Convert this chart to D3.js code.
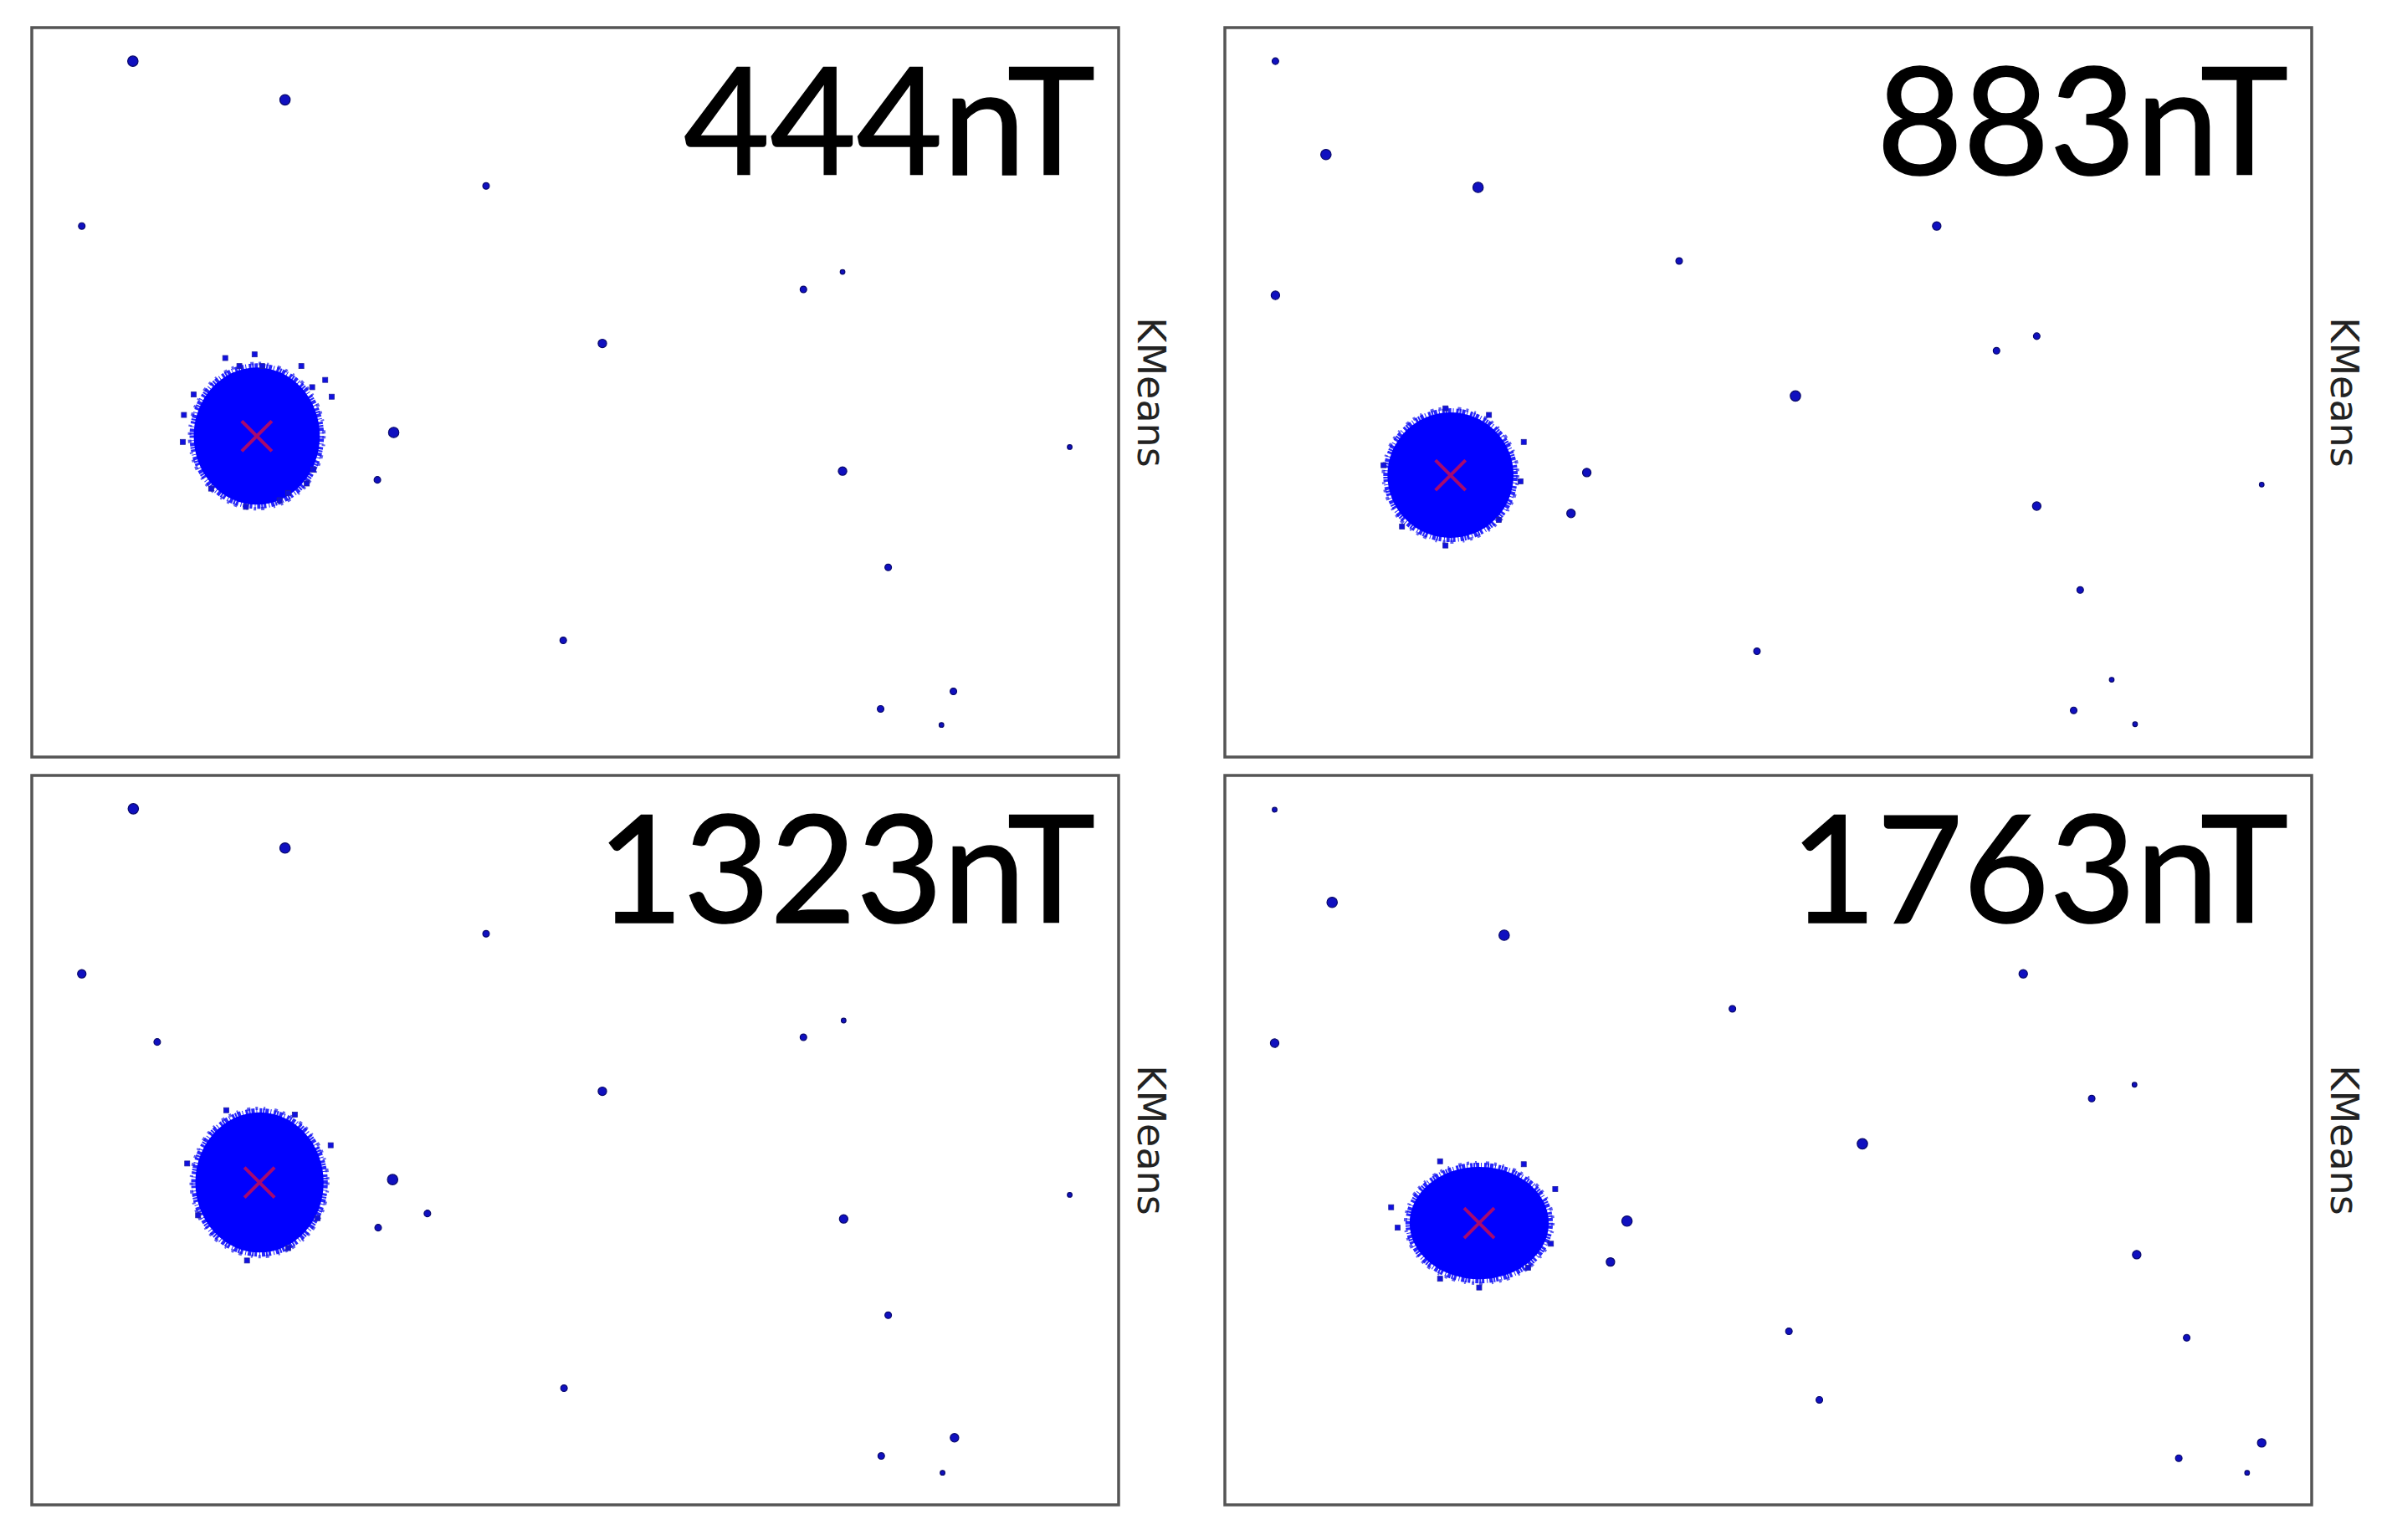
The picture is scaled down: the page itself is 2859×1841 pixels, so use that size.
<!DOCTYPE html>
<html>
<head>
<meta charset="utf-8">
<script src="https://cdn.jsdelivr.net/npm/d3@7"></script>
<style>
  html, body { margin: 0; padding: 0; background: #fff; }
  svg { display: block; }
</style>
</head>
<body>
<svg id="chart" width="2859" height="1841"></svg>
<script>
// ---------------- DATA ----------------
const titles = ["444nT", "883nT", "1323nT", "1763nT"];
const sideLabel = "KMeans";

// cluster centroids (red X) and spread of the dense core, per panel
const centroidX = [20.7, 20.76, 20.95, 23.4];
const centroidY = [44.0, 38.64, 44.2, 38.64];
const spreadX   = [5.8, 5.8, 5.9, 6.4];
const spreadY   = [9.4, 8.6, 9.6, 7.7];

// isolated points: [x, y, weight]
const outliers444 = [
  [9.3, 95.4, 4], [23.3, 90.1, 4], [41.8, 78.3, 2], [4.6, 72.8, 2],
  [74.6, 66.5, 1], [71.0, 64.1, 2], [52.5, 56.7, 3], [33.3, 44.5, 4],
  [31.8, 38.0, 2], [95.5, 42.5, 1], [74.6, 39.2, 3], [78.8, 26.0, 2],
  [48.9, 16.0, 2], [84.8, 9.0, 2], [78.1, 6.6, 2], [83.7, 4.4, 1]
];
const outliers883 = [
  [4.65, 95.4, 2], [9.3, 82.6, 4], [23.3, 78.1, 4], [65.5, 72.8, 3],
  [41.8, 68.0, 2], [4.65, 63.3, 3], [74.7, 57.7, 2], [71.0, 55.7, 2],
  [52.5, 49.5, 4], [33.3, 39.0, 3], [31.85, 33.4, 3], [95.4, 37.35, 1],
  [74.7, 34.4, 3], [78.7, 22.9, 2], [48.96, 14.5, 2], [81.6, 10.6, 1],
  [78.1, 6.4, 2], [83.75, 4.5, 1]
];
const outliers1323 = [
  [9.34, 95.43, 4], [23.3, 90.05, 4], [41.8, 78.3, 2], [4.6, 72.8, 3],
  [11.54, 63.46, 2], [74.7, 66.4, 1], [71.0, 64.1, 2], [52.5, 56.7, 3],
  [33.2, 44.6, 4], [36.4, 39.95, 2], [31.87, 38.0, 2], [95.5, 42.5, 1],
  [74.7, 39.2, 3], [78.8, 26.0, 2], [48.97, 16.0, 2], [84.9, 9.2, 3],
  [78.16, 6.7, 2], [83.8, 4.4, 1]
];
const outliers1763 = [
  [4.58, 95.3, 1], [9.87, 82.6, 4], [25.7, 78.1, 4], [73.46, 72.8, 3],
  [46.7, 68.0, 2], [4.58, 63.3, 3], [83.7, 57.6, 1], [79.76, 55.7, 2],
  [58.66, 49.5, 4], [37.0, 38.9, 4], [35.48, 33.3, 3], [83.9, 34.3, 3],
  [51.9, 23.8, 2], [88.5, 22.9, 2], [54.7, 14.4, 2], [95.4, 8.5, 3],
  [87.77, 6.4, 2], [94.06, 4.4, 1]
];

// loose points on the rim of the dense cluster: [x, y]
const fringe444 = [
  [17.8, 54.7], [20.5, 55.2], [19.1, 53.6], [21.2, 53.6], [24.8, 53.6],
  [27.0, 51.7], [25.8, 50.7], [27.6, 49.4], [14.0, 46.9], [14.9, 49.7],
  [13.9, 43.2], [25.9, 39.4], [25.3, 37.5], [23.6, 36.2], [22.8, 35.2],
  [16.5, 36.8], [19.7, 34.3]
];
const fringe883 = [
  [20.3, 47.8], [24.3, 46.9], [27.5, 43.2], [27.2, 37.8], [16.3, 31.6],
  [20.3, 29.0], [25.2, 32.5], [14.6, 40.0]
];
const fringe1323 = [
  [17.9, 54.1], [24.2, 53.5], [27.5, 49.3], [14.3, 46.8], [15.3, 39.7],
  [19.8, 33.5], [23.6, 35.2], [26.3, 39.3]
];
const fringe1763 = [
  [19.8, 47.1], [27.5, 46.7], [30.4, 43.3], [15.3, 40.8], [30.0, 35.8],
  [27.9, 32.5], [23.4, 29.8], [19.8, 31.0], [15.9, 38.0]
];

const outlierSets = [outliers444, outliers883, outliers1323, outliers1763];
const fringeSets  = [fringe444, fringe883, fringe1323, fringe1763];

// ---------------- LAYOUT ----------------
const svg = d3.select("#chart");
svg.append("rect").attr("width", 2859).attr("height", 1841).attr("fill", "#fff");

const colLeft = [38, 1464];
const rowTop  = [33, 927];
const pw = 1299, ph = 872;

const rScale = d3.scaleLinear().domain([1, 4]).range([2.8, 6.2]);

titles.forEach((title, i) => {
  const left = colLeft[i % 2];
  const top  = rowTop[Math.floor(i / 2)];
  const x = d3.scaleLinear().domain([0, 100]).range([left, left + pw]);
  const y = d3.scaleLinear().domain([0, 100]).range([top + ph, top]);

  const g = svg.append("g");

  // dense cluster core
  const cx = x(centroidX[i]), cy = y(centroidY[i]);
  const rx = x(centroidX[i] + spreadX[i]) - cx;
  const ry = cy - y(centroidY[i] + spreadY[i]);
  g.append("ellipse")
    .attr("cx", cx).attr("cy", cy).attr("rx", rx).attr("ry", ry)
    .attr("fill", "#0000ff");
  g.append("ellipse")
    .attr("cx", cx).attr("cy", cy).attr("rx", rx + 2).attr("ry", ry + 2)
    .attr("fill", "none").attr("stroke", "#0000ff").attr("stroke-opacity", 0.85)
    .attr("stroke-width", 6).attr("stroke-dasharray", "2 1 4 2 1 3 3 1");
  g.append("ellipse")
    .attr("cx", cx).attr("cy", cy).attr("rx", rx + 5).attr("ry", ry + 5)
    .attr("fill", "none").attr("stroke", "#1a1ae8").attr("stroke-opacity", 0.7)
    .attr("stroke-width", 4).attr("stroke-dasharray", "3 7 2 11 4 6");

  // rim points
  g.selectAll("rect.fringe").data(fringeSets[i]).join("rect")
    .attr("class", "fringe")
    .attr("x", d => x(d[0]) - 3).attr("y", d => y(d[1]) - 3)
    .attr("width", 6).attr("height", 6)
    .attr("fill", "#1010e0").attr("stroke", "#2020a0").attr("stroke-width", 0.8);

  // isolated points
  g.selectAll("circle.out").data(outlierSets[i]).join("circle")
    .attr("class", "out")
    .attr("cx", d => x(d[0])).attr("cy", d => y(d[1]))
    .attr("r", d => rScale(d[2]))
    .attr("fill", "#1010c0").attr("stroke", "#08086a").attr("stroke-width", 1.2);

  // centroid marker
  const s = 18;
  const p = d3.path();
  p.moveTo(cx - s, cy - s); p.lineTo(cx + s, cy + s);
  p.moveTo(cx - s, cy + s); p.lineTo(cx + s, cy - s);
  g.append("path").attr("d", p.toString())
    .attr("stroke", "#ff1020").attr("stroke-opacity", 0.65)
    .attr("stroke-width", 4).attr("fill", "none");

  // frame
  g.append("rect")
    .attr("x", left).attr("y", top).attr("width", pw).attr("height", ph)
    .attr("fill", "none").attr("stroke", "#555").attr("stroke-width", 3.5);

  // big field label
  g.append("text")
    .attr("x", left + pw - 28).attr("y", top + 176)
    .attr("text-anchor", "end")
    .attr("font-family", "Lato, 'Open Sans', sans-serif")
    .attr("font-size", 178)
    .attr("fill", "#000").attr("stroke", "#000").attr("stroke-width", 1.5)
    .text(title);

  // side label
  g.append("text")
    .attr("transform", `translate(${left + pw + 23}, ${top + ph / 2}) rotate(90)`)
    .attr("text-anchor", "middle")
    .attr("font-family", "'DejaVu Sans', sans-serif")
    .attr("font-size", 46)
    .attr("fill", "#222")
    .text(sideLabel);
});
</script>
</body>
</html>
